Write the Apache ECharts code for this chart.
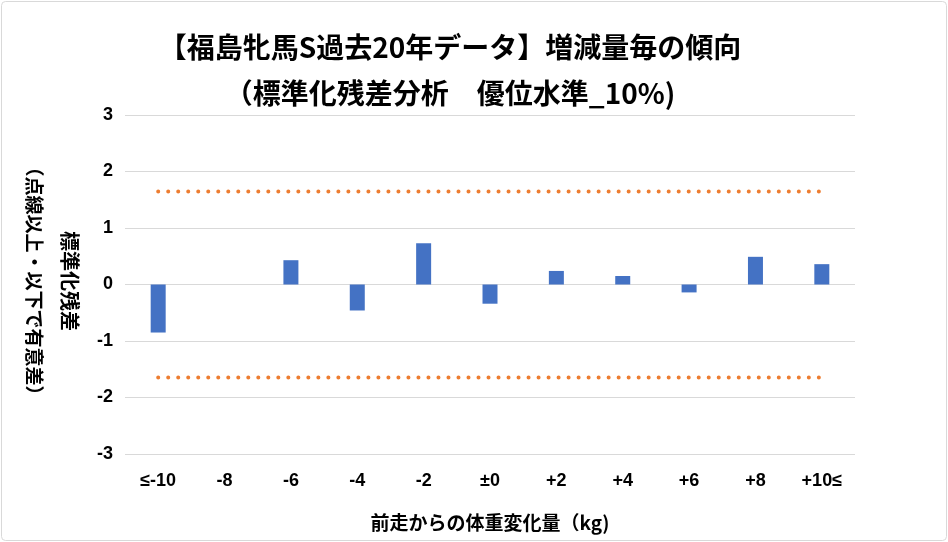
<!DOCTYPE html>
<html><head><meta charset="utf-8">
<script src="https://cdn.jsdelivr.net/npm/echarts@6/dist/echarts.min.js"></script>
<style>html,body{margin:0;padding:0;background:#fff}#c{width:948px;height:542px}</style>
</head><body><div id="c"></div>
<script>
var categories = ['≤-10','-8','-6','-4','-2','±0','+2','+4','+6','+8','+10≤'];
var residuals = [-0.85, 0, 0.43, -0.46, 0.73, -0.34, 0.24, 0.15, -0.14, 0.49, 0.36];
var upperLimit = [1.645,1.645,1.645,1.645,1.645,1.645,1.645,1.645,1.645,1.645,1.645];
var lowerLimit = [-1.645,-1.645,-1.645,-1.645,-1.645,-1.645,-1.645,-1.645,-1.645,-1.645,-1.645];
var yTicks = [-3,-2,-1,0,1,2,3];

var FONT = '"Noto Sans CJK JP", "Noto Sans", sans-serif';
var NUMFONT = '"Liberation Sans", Arial, sans-serif';
var chart = echarts.init(document.getElementById('c'));
chart.setOption({
  animation: false,
  backgroundColor: '#fff',
  title: {
    text: '【福島牝馬S過去20年データ】増減量毎の傾向\n（標準化残差分析　優位水準_10%)',
    left: 445, textAlign: 'center', top: 19,
    textStyle: { fontFamily: FONT, fontSize: 28, fontWeight: 'bold', color: '#000', lineHeight: 46 }
  },
  grid: { left: 125, right: 93, top: 115, bottom: 88 },
  xAxis: {
    type: 'category', data: categories,
    axisLine: { show: false, onZero: false }, axisTick: { show: false },
    axisLabel: { color: '#000', fontFamily: NUMFONT, fontSize: 18, fontWeight: 'bold', margin: 18 },
    name: '前走からの体重変化量（kg)', nameLocation: 'middle', nameGap: 59,
    nameTextStyle: { color: '#000', fontFamily: FONT, fontSize: 19, fontWeight: 'bold' }
  },
  yAxis: {
    type: 'value', min: yTicks[0], max: yTicks[yTicks.length-1], interval: 1,
    axisLine: { show: false }, axisTick: { show: false },
    splitLine: { lineStyle: { color: '#d9d9d9', width: 1 } },
    axisLabel: { color: '#000', fontFamily: NUMFONT, fontSize: 18, fontWeight: 'bold', margin: 12 }
  },
  graphic: [
    { type: 'rect', shape: { x: 1.5, y: 1.5, width: 945, height: 539, r: 4 },
      style: { fill: 'none', stroke: '#d9d9d9', lineWidth: 1 }, silent: true },
    { type: 'text', x: 70, y: 281, rotation: -Math.PI/2,
      style: { text: '標準化残差', fontFamily: FONT, fontSize: 20, fontWeight: 'bold', fill: '#000', align: 'center', verticalAlign: 'middle' } },
    { type: 'text', x: 34, y: 281, rotation: -Math.PI/2,
      style: { text: '（点線以上・以下で有意差）', fontFamily: FONT, fontSize: 19, fontWeight: 'bold', fill: '#000', align: 'center', verticalAlign: 'middle' } }
  ],
  series: [
    { type: 'bar', data: residuals, barWidth: 15, itemStyle: { color: '#4472C4' } },
    { type: 'line', data: upperLimit, symbol: 'none', lineStyle: { color: '#ED7D31', width: 4, type: [0.01, 10], cap: 'round' } },
    { type: 'line', data: lowerLimit, symbol: 'none', lineStyle: { color: '#ED7D31', width: 4, type: [0.01, 10], cap: 'round' } }
  ]
});
</script></body></html>
